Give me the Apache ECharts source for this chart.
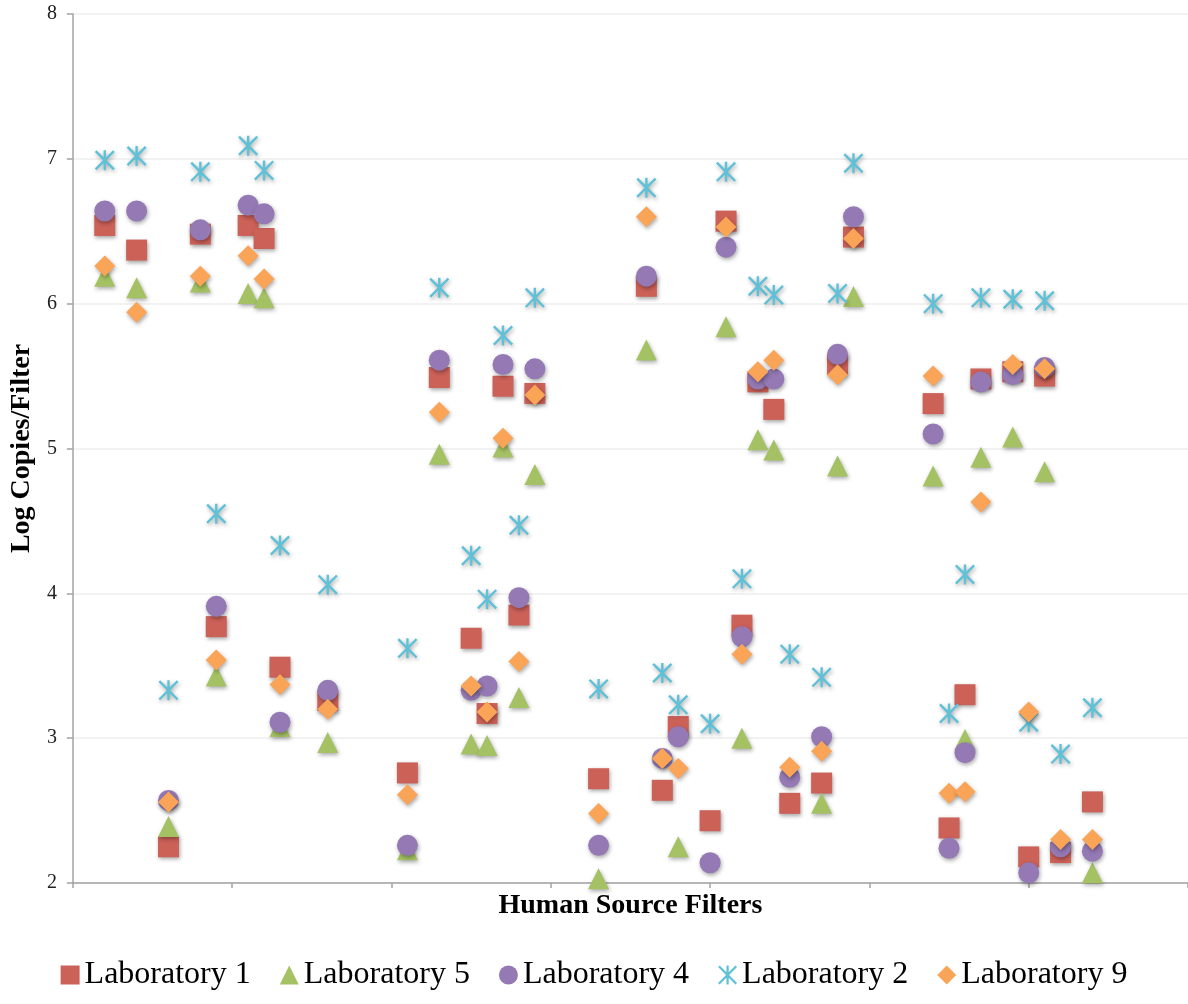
<!DOCTYPE html>
<html>
<head>
<meta charset="utf-8">
<title>Log Copies/Filter</title>
<script src="https://cdn.jsdelivr.net/npm/echarts@6/dist/echarts.min.js"></script>
<style>
    html, body {margin: 0; padding: 0; background: #fff;}
    #main {width: 1188px; height: 1004px;}
</style>
</head>
<body>
<div id="main"></div>
<script>
// filter number on the x axis, one entry per filter
var filterNo = [2, 4, 6, 8, 9, 11, 12, 13, 16, 21, 23, 25, 26, 27, 28, 29, 33, 36, 37, 38,
    40, 41, 42, 43, 44, 45, 47, 48, 49, 54, 55, 56, 57, 59, 60, 61, 62, 64];

// log copies per filter, null = no result
var lab1 = [6.54, 6.37, 2.25, 6.48, 3.77, 6.54, 6.45, 3.49, 3.26, 2.76, 5.49, 3.69, 3.17, 5.43, 3.85, 5.38, 2.72, 6.12, 2.64, 3.08,
    2.43, 6.57, 3.78, 5.46, 5.27, 2.55, 2.69, 5.58, 6.46, 5.31, 2.38, 3.30, 5.48, 5.53, 2.18, 5.50, 2.21, 2.56];
var lab5 = [6.19, 6.11, 2.39, 6.15, 3.43, 6.07, 6.04, 3.08, 2.97, 2.23, 4.96, 2.96, 2.95, 5.01, 3.28, 4.82, 2.03, 5.68, null, 2.25,
    null, 5.84, 3.00, 5.06, 4.99, null, 2.55, 4.88, 6.05, 4.81, null, 2.99, 4.94, 5.08, null, 4.84, null, 2.07];
var lab4 = [6.64, 6.64, 2.57, 6.51, 3.91, 6.68, 6.62, 3.11, 3.33, 2.26, 5.61, 3.33, 3.36, 5.58, 3.97, 5.55, 2.26, 6.19, 2.86, 3.01,
    2.14, 6.39, 3.70, 5.48, 5.48, 2.73, 3.01, 5.65, 6.60, 5.10, 2.24, 2.90, 5.46, 5.51, 2.07, 5.56, 2.25, 2.22];
var lab2 = [6.99, 7.02, 3.33, 6.91, 4.55, 7.09, 6.92, 4.33, 4.06, 3.62, 6.11, 4.26, 3.96, 5.78, 4.47, 6.04, 3.34, 6.80, 3.45, 3.23,
    3.10, 6.91, 4.10, 6.12, 6.06, 3.58, 3.42, 6.07, 6.97, 6.00, 3.17, 4.13, 6.04, 6.03, 3.11, 6.02, 2.89, 3.21];
var lab9 = [6.26, 5.94, 2.56, 6.19, 3.54, 6.33, 6.17, 3.37, 3.20, 2.61, 5.25, 3.36, 3.18, 5.07, 3.53, 5.37, 2.48, 6.60, 2.86, 2.79,
    null, 6.53, 3.58, 5.53, 5.61, 2.80, 2.91, 5.51, 6.45, 5.50, 2.62, 2.63, 4.63, 5.58, 3.18, 5.55, 2.30, 2.30];

var labNames = ['Laboratory 1', 'Laboratory 5', 'Laboratory 4', 'Laboratory 2', 'Laboratory 9'];

// excel style star marker: an X with a vertical bar through it
var starPath = 'path://M8.8,0 L11.2,0 L11.2,20 L8.8,20 Z M0,1.7 L1.7,0 L20,18.3 L18.3,20 Z M18.3,0 L20,1.7 L1.7,20 L0,18.3 Z';

var serif = '"Liberation Serif", "Times New Roman", serif';

function pairs(vals) {
    var out = [];
    for (var i = 0; i < filterNo.length; i++) {
        if (vals[i] != null) out.push([filterNo[i], vals[i]]);
    }
    return out;
}

function labSeries(name, vals, symbol, color, size) {
    return {
        name: name,
        type: 'scatter',
        symbol: symbol,
        symbolSize: size,
        data: pairs(vals),
        itemStyle: {
            color: color,
            opacity: 1,
            shadowBlur: 4,
            shadowColor: 'rgba(0,0,0,0.35)',
            shadowOffsetX: 1,
            shadowOffsetY: 2
        },
        emphasis: {disabled: true}
    };
}

var myChart = echarts.init(document.getElementById('main'));
var option = {
    animation: false,
    backgroundColor: '#ffffff',
    grid: {
        left: 70,
        top: 14,
        width: 1121,
        height: 869
    },
    legend: {
        bottom: 8,
        left: 'center',
        itemWidth: 19,
        itemHeight: 19,
        itemGap: 29,
        textStyle: {
            fontFamily: serif,
            fontSize: 32,
            color: '#000'
        },
        data: labNames
    },
    xAxis: {
        type: 'value',
        min: 0,
        max: 70,
        interval: 10,
        name: 'Human Source Filters',
        nameLocation: 'middle',
        nameGap: 9,
        nameTextStyle: {
            fontFamily: serif,
            fontSize: 28,
            fontWeight: 'bold',
            color: '#000',
            verticalAlign: 'top'
        },
        axisLine: {lineStyle: {color: '#a3a3a3', width: 1.5}},
        axisTick: {show: true, length: 5, lineStyle: {color: '#a3a3a3', width: 1.5}},
        axisLabel: {show: false},
        splitLine: {show: false}
    },
    yAxis: {
        type: 'value',
        min: 2,
        max: 8,
        interval: 1,
        name: 'Log Copies/Filter',
        nameLocation: 'middle',
        nameGap: 35,
        nameTextStyle: {
            fontFamily: serif,
            fontSize: 28,
            fontWeight: 'bold',
            color: '#000'
        },
        axisLine: {show: true, lineStyle: {color: '#a3a3a3', width: 1.5}},
        axisTick: {show: true, length: 6, lineStyle: {color: '#a3a3a3', width: 1.5}},
        axisLabel: {
            margin: 16,
            fontFamily: serif,
            fontSize: 20,
            color: '#222'
        },
        splitLine: {show: true, lineStyle: {color: '#eeeeee', width: 1.5}}
    },
    series: [
        labSeries(labNames[0], lab1, 'rect', '#cc6158', 21),
        labSeries(labNames[1], lab5, 'triangle', '#a4c263', 21),
        labSeries(labNames[2], lab4, 'circle', '#9479b4', 21),
        labSeries(labNames[3], lab2, starPath, '#5ec1d8', 20),
        labSeries(labNames[4], lab9, 'diamond', '#f9a457', 21)
    ]
};
myChart.setOption(option);
</script>
</body>
</html>
